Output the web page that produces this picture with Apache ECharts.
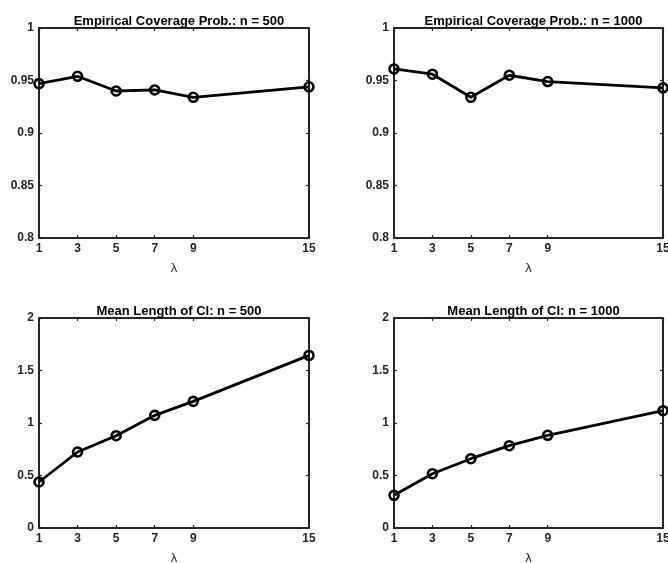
<!DOCTYPE html>
<html><head><meta charset="utf-8">
<script src="https://cdn.jsdelivr.net/npm/echarts@6/dist/echarts.min.js"></script>
<style>html,body{margin:0;padding:0;background:#fff;width:668px;height:563px;overflow:hidden}#c{width:668px;height:563px;display:block}</style>
</head><body><div id="c"></div>
<script>
const lambdas = [1, 3, 5, 7, 9, 15];
const xTicks = [1, 3, 5, 7, 9, 15];
const covN500 = [0.947, 0.954, 0.940, 0.941, 0.934, 0.944];
const covN1000 = [0.961, 0.956, 0.934, 0.955, 0.949, 0.943];
const lenN500 = [0.438, 0.724, 0.879, 1.073, 1.206, 1.644];
const lenN1000 = [0.311, 0.517, 0.660, 0.784, 0.883, 1.117];
const titles = ['Empirical Coverage Prob.: n = 500', 'Empirical Coverage Prob.: n = 1000',
                'Mean Length of CI: n = 500', 'Mean Length of CI: n = 1000'];
const seriesData = [covN500, covN1000, lenN500, lenN1000];
const yRanges = [[0.8, 1, 0.05], [0.8, 1, 0.05], [0, 2, 0.5], [0, 2, 0.5]];

const grids = [
  {left: 39, top: 28, width: 270, height: 210},
  {left: 394, top: 28, width: 269, height: 210},
  {left: 39, top: 318, width: 270, height: 210},
  {left: 394, top: 318, width: 269, height: 210}
];
const axisColor = '#262626';
const font = 'Liberation Sans, Arial, Helvetica, sans-serif';
const option = {animation: false, backgroundColor: '#fff', title: [], grid: [], xAxis: [], yAxis: [], series: []};
grids.forEach((g, i) => {
  option.grid.push(Object.assign({containLabel: false, outerBoundsMode: 'none'}, g));
  option.title.push({text: titles[i], left: g.left + g.width / 2, top: g.top - 18, textAlign: 'center',
    textStyle: {fontFamily: font, fontWeight: 'bold', fontSize: 13, color: '#000'}});
  const xBase = {type: 'value', gridIndex: i, min: 1, max: 15, splitLine: {show: false},
    axisLine: {show: true, onZero: false, lineStyle: {color: axisColor, width: 2}}};
  option.xAxis.push(Object.assign({}, xBase, {position: 'bottom', name: 'λ', nameLocation: 'middle', nameGap: 24,
    nameTextStyle: {fontFamily: font, fontSize: 13, color: '#262626'},
    axisTick: {show: true, inside: true, length: 3, customValues: xTicks, lineStyle: {color: axisColor, width: 1.2}},
    axisLabel: {show: true, customValues: xTicks, margin: 5, fontFamily: font, fontWeight: 'bold', fontSize: 12, color: '#262626'}}));
  option.xAxis.push(Object.assign({}, xBase, {position: 'top',
    axisTick: {show: true, inside: true, length: 3, customValues: xTicks, lineStyle: {color: axisColor, width: 1.2}},
    axisLabel: {show: false}}));
  const [ymin, ymax, yint] = yRanges[i];
  const yBase = {type: 'value', gridIndex: i, min: ymin, max: ymax, interval: yint, splitLine: {show: false},
    axisLine: {show: true, onZero: false, lineStyle: {color: axisColor, width: 2}},
    axisTick: {show: true, inside: true, length: 3, lineStyle: {color: axisColor, width: 1.2}}};
  option.yAxis.push(Object.assign({}, yBase, {position: 'left',
    axisLabel: {show: true, margin: 5, fontFamily: font, fontWeight: 'bold', fontSize: 12, color: '#262626'}}));
  option.yAxis.push(Object.assign({}, yBase, {position: 'right', axisLabel: {show: false}}));
  option.series.push({type: 'line', xAxisIndex: 2 * i, yAxisIndex: 2 * i,
    data: lambdas.map((x, k) => [x, seriesData[i][k]]),
    symbol: 'circle', symbolSize: 9, showAllSymbol: true,
    lineStyle: {color: '#000', width: 2.8},
    itemStyle: {color: 'rgba(255,255,255,0)', borderColor: '#000', borderWidth: 2.6}, clip: false});
});
echarts.init(document.getElementById('c')).setOption(option);
</script></body></html>
